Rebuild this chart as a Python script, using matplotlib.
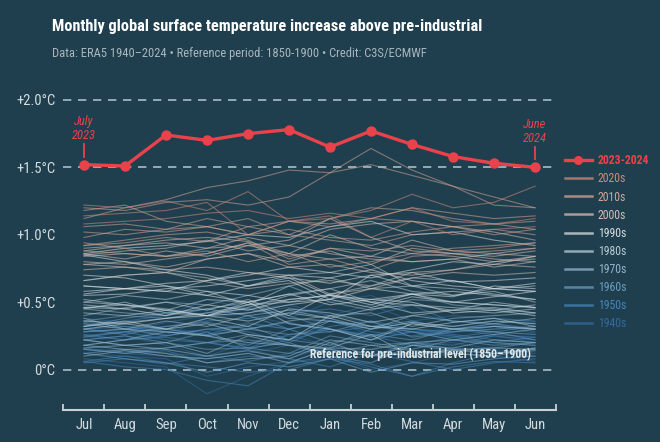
import matplotlib
matplotlib.use("Agg")
import matplotlib.pyplot as plt
from matplotlib import font_manager
from matplotlib.lines import Line2D

# pick a narrow font if one is around
names = set(f.name for f in font_manager.fontManager.ttflist)
font = "Roboto"
for cand in ["Roboto Condensed", "Liberation Sans Narrow", "DejaVu Sans Condensed", "Roboto"]:
    if cand in names:
        font = cand
        break
plt.rcParams['font.family'] = [font, 'DejaVu Sans']

months = ["Jul", "Aug", "Sep", "Oct", "Nov", "Dec", "Jan", "Feb", "Mar", "Apr", "May", "Jun"]

#### 2023-2024 (red) ####
y2023 = [1.52, 1.51, 1.74, 1.70, 1.75, 1.78, 1.65, 1.77, 1.67, 1.58, 1.53, 1.50]

#### earlier years, one row per Jul-Jun year ####
y1940s = [
    [0.30, 0.28, 0.35, 0.40, 0.45, 0.38, 0.50, 0.55, 0.42, 0.36, 0.33, 0.30],
    [0.32, 0.36, 0.40, 0.52, 0.45, 0.48, 0.40, 0.35, 0.28, 0.30, 0.34, 0.28],
    [0.25, 0.22, 0.30, 0.28, 0.35, 0.30, 0.38, 0.25, 0.30, 0.28, 0.32, 0.27],
    [0.28, 0.30, 0.26, 0.38, 0.42, 0.46, 0.40, 0.48, 0.36, 0.40, 0.38, 0.35],
    [0.38, 0.35, 0.42, 0.45, 0.40, 0.34, 0.30, 0.26, 0.28, 0.22, 0.25, 0.20],
    [0.22, 0.25, 0.18, 0.10, 0.15, 0.08, 0.18, 0.12, 0.10, 0.16, 0.14, 0.10],
    [0.12, 0.10, 0.08, -0.05, 0.02, 0.06, 0.14, 0.10, 0.18, 0.20, 0.15, 0.12],
    [0.15, 0.14, 0.12, 0.10, 0.20, 0.25, 0.18, 0.22, 0.28, 0.24, 0.20, 0.18],
    [0.16, 0.12, 0.10, 0.08, 0.12, 0.18, 0.10, 0.00, 0.05, 0.12, 0.10, 0.06],
    [0.08, 0.05, 0.02, -0.18, -0.05, 0.05, 0.08, 0.15, 0.10, 0.12, 0.09, 0.10],
]
y1950s = [
    [0.06, 0.02, 0.00, -0.08, -0.12, 0.05, 0.10, 0.02, -0.05, 0.05, 0.12, 0.15],
    [0.18, 0.22, 0.25, 0.30, 0.28, 0.20, 0.32, 0.36, 0.30, 0.28, 0.32, 0.30],
    [0.25, 0.28, 0.22, 0.20, 0.15, 0.22, 0.30, 0.25, 0.18, 0.24, 0.28, 0.32],
    [0.30, 0.32, 0.28, 0.26, 0.30, 0.35, 0.28, 0.32, 0.30, 0.26, 0.22, 0.20],
    [0.15, 0.12, 0.14, 0.05, 0.10, 0.08, 0.02, 0.12, 0.06, 0.00, 0.05, 0.08],
    [0.06, 0.10, 0.05, 0.02, -0.02, 0.00, 0.08, 0.04, -0.05, 0.02, 0.06, 0.05],
    [0.05, 0.08, 0.04, 0.10, 0.06, 0.12, 0.15, 0.10, 0.20, 0.18, 0.25, 0.22],
    [0.28, 0.30, 0.32, 0.36, 0.38, 0.42, 0.45, 0.40, 0.48, 0.35, 0.38, 0.36],
    [0.35, 0.32, 0.30, 0.26, 0.34, 0.30, 0.36, 0.28, 0.25, 0.30, 0.26, 0.24],
    [0.26, 0.22, 0.24, 0.20, 0.16, 0.26, 0.30, 0.22, 0.28, 0.25, 0.20, 0.24],
]
y1960s = [
    [0.24, 0.28, 0.30, 0.25, 0.18, 0.30, 0.20, 0.26, 0.22, 0.30, 0.28, 0.26],
    [0.28, 0.30, 0.25, 0.30, 0.32, 0.22, 0.36, 0.32, 0.36, 0.30, 0.34, 0.30],
    [0.30, 0.26, 0.32, 0.35, 0.30, 0.26, 0.28, 0.36, 0.24, 0.28, 0.30, 0.32],
    [0.32, 0.38, 0.42, 0.45, 0.40, 0.30, 0.36, 0.32, 0.28, 0.22, 0.20, 0.18],
    [0.12, 0.08, 0.05, -0.02, 0.05, 0.02, 0.08, -0.02, 0.05, 0.04, 0.08, 0.10],
    [0.12, 0.15, 0.16, 0.20, 0.22, 0.18, 0.12, 0.18, 0.20, 0.15, 0.16, 0.20],
    [0.22, 0.18, 0.20, 0.15, 0.16, 0.12, 0.25, 0.20, 0.15, 0.22, 0.18, 0.20],
    [0.22, 0.25, 0.20, 0.28, 0.16, 0.20, 0.10, 0.05, 0.18, 0.14, 0.12, 0.16],
    [0.15, 0.12, 0.16, 0.20, 0.26, 0.22, 0.18, 0.30, 0.35, 0.32, 0.36, 0.34],
    [0.36, 0.40, 0.38, 0.42, 0.45, 0.40, 0.30, 0.24, 0.34, 0.30, 0.28, 0.22],
]
y1970s = [
    [0.22, 0.18, 0.20, 0.12, 0.25, 0.18, 0.16, 0.26, 0.10, 0.15, 0.12, 0.14],
    [0.10, 0.14, 0.10, 0.08, 0.12, 0.05, 0.16, 0.15, 0.20, 0.22, 0.26, 0.30],
    [0.32, 0.35, 0.38, 0.42, 0.48, 0.52, 0.55, 0.50, 0.56, 0.48, 0.45, 0.42],
    [0.38, 0.30, 0.28, 0.25, 0.20, 0.18, 0.15, 0.10, 0.12, 0.14, 0.16, 0.15],
    [0.16, 0.18, 0.15, 0.10, 0.14, 0.08, 0.20, 0.10, 0.18, 0.16, 0.22, 0.20],
    [0.18, 0.15, 0.12, 0.05, 0.08, 0.10, 0.22, 0.18, 0.14, 0.12, 0.10, 0.16],
    [0.18, 0.22, 0.28, 0.25, 0.30, 0.36, 0.40, 0.42, 0.32, 0.38, 0.40, 0.42],
    [0.45, 0.42, 0.40, 0.45, 0.50, 0.38, 0.36, 0.30, 0.35, 0.32, 0.36, 0.34],
    [0.34, 0.30, 0.36, 0.32, 0.40, 0.44, 0.38, 0.30, 0.40, 0.36, 0.34, 0.38],
    [0.40, 0.46, 0.50, 0.48, 0.55, 0.62, 0.50, 0.44, 0.52, 0.50, 0.48, 0.46],
]
y1980s = [
    [0.48, 0.45, 0.50, 0.44, 0.52, 0.40, 0.56, 0.50, 0.48, 0.44, 0.46, 0.42],
    [0.45, 0.50, 0.42, 0.40, 0.46, 0.55, 0.60, 0.50, 0.42, 0.44, 0.50, 0.46],
    [0.42, 0.40, 0.44, 0.40, 0.48, 0.62, 0.68, 0.60, 0.62, 0.55, 0.58, 0.50],
    [0.52, 0.48, 0.44, 0.40, 0.50, 0.34, 0.30, 0.22, 0.34, 0.30, 0.32, 0.30],
    [0.32, 0.36, 0.30, 0.34, 0.26, 0.22, 0.40, 0.32, 0.30, 0.35, 0.38, 0.32],
    [0.30, 0.34, 0.30, 0.38, 0.32, 0.45, 0.42, 0.35, 0.40, 0.44, 0.42, 0.45],
    [0.46, 0.48, 0.44, 0.52, 0.50, 0.56, 0.60, 0.66, 0.58, 0.55, 0.60, 0.62],
    [0.66, 0.70, 0.72, 0.68, 0.62, 0.70, 0.72, 0.78, 0.62, 0.60, 0.56, 0.52],
    [0.50, 0.48, 0.45, 0.40, 0.36, 0.42, 0.38, 0.45, 0.48, 0.46, 0.44, 0.48],
    [0.50, 0.55, 0.52, 0.58, 0.48, 0.50, 0.56, 0.62, 0.68, 0.66, 0.60, 0.58],
]
y1990s = [
    [0.62, 0.60, 0.58, 0.66, 0.72, 0.68, 0.64, 0.70, 0.72, 0.65, 0.66, 0.68],
    [0.70, 0.68, 0.62, 0.55, 0.50, 0.56, 0.48, 0.52, 0.50, 0.42, 0.44, 0.40],
    [0.36, 0.34, 0.38, 0.40, 0.42, 0.48, 0.52, 0.46, 0.54, 0.50, 0.48, 0.46],
    [0.46, 0.45, 0.40, 0.48, 0.44, 0.52, 0.55, 0.48, 0.56, 0.58, 0.55, 0.52],
    [0.55, 0.56, 0.60, 0.62, 0.66, 0.70, 0.68, 0.74, 0.66, 0.62, 0.60, 0.58],
    [0.58, 0.60, 0.62, 0.58, 0.55, 0.50, 0.52, 0.60, 0.56, 0.54, 0.62, 0.60],
    [0.62, 0.60, 0.64, 0.66, 0.70, 0.76, 0.72, 0.68, 0.74, 0.80, 0.78, 0.84],
    [0.86, 0.90, 0.92, 0.95, 1.00, 0.98, 1.06, 1.10, 1.00, 1.02, 0.96, 0.92],
    [0.85, 0.80, 0.74, 0.70, 0.62, 0.68, 0.55, 0.52, 0.56, 0.50, 0.54, 0.58],
    [0.56, 0.60, 0.58, 0.55, 0.62, 0.66, 0.52, 0.70, 0.62, 0.66, 0.60, 0.64],
]
y2000s = [
    [0.66, 0.70, 0.72, 0.65, 0.60, 0.64, 0.66, 0.62, 0.72, 0.74, 0.78, 0.76],
    [0.78, 0.80, 0.76, 0.82, 0.86, 0.80, 0.90, 0.84, 0.96, 0.88, 0.86, 0.90],
    [0.86, 0.82, 0.88, 0.84, 0.92, 0.86, 1.00, 0.90, 0.86, 0.84, 0.80, 0.84],
    [0.85, 0.88, 0.90, 0.96, 0.88, 0.92, 0.86, 0.82, 0.80, 0.82, 0.76, 0.80],
    [0.80, 0.78, 0.82, 0.86, 0.94, 0.84, 0.88, 0.78, 0.90, 0.86, 0.84, 0.88],
    [0.90, 0.92, 0.96, 0.98, 0.95, 0.86, 0.82, 0.84, 0.80, 0.82, 0.86, 0.84],
    [0.84, 0.86, 0.84, 0.90, 0.92, 0.96, 1.12, 0.98, 0.88, 0.86, 0.82, 0.80],
    [0.78, 0.76, 0.74, 0.76, 0.72, 0.70, 0.56, 0.60, 0.68, 0.72, 0.70, 0.72],
    [0.74, 0.76, 0.72, 0.82, 0.86, 0.76, 0.78, 0.72, 0.70, 0.74, 0.80, 0.82],
    [0.88, 0.92, 0.94, 0.90, 0.98, 0.92, 1.04, 1.08, 1.10, 1.06, 1.02, 0.96],
]
y2010s = [
    [0.94, 0.90, 0.84, 0.86, 0.94, 0.78, 0.82, 0.74, 0.84, 0.86, 0.88, 0.90],
    [0.88, 0.86, 0.84, 0.88, 0.80, 0.86, 0.76, 0.80, 0.86, 0.90, 0.92, 0.94],
    [0.92, 0.96, 1.00, 1.02, 0.96, 0.82, 0.90, 0.88, 0.92, 0.88, 0.90, 0.94],
    [0.92, 0.94, 0.98, 0.95, 1.06, 1.00, 0.96, 0.92, 1.00, 1.02, 1.04, 1.00],
    [0.98, 1.04, 1.02, 1.06, 1.00, 1.10, 1.06, 1.12, 1.10, 1.06, 1.08, 1.10],
    [1.12, 1.20, 1.26, 1.35, 1.40, 1.48, 1.46, 1.64, 1.48, 1.36, 1.28, 1.20],
    [1.18, 1.22, 1.10, 1.06, 1.12, 1.00, 1.12, 1.20, 1.18, 1.12, 1.08, 1.04],
    [1.06, 1.08, 1.04, 1.06, 1.00, 1.04, 0.98, 0.96, 1.02, 1.06, 1.00, 1.04],
    [1.02, 1.00, 1.04, 1.12, 1.06, 1.10, 1.08, 1.12, 1.20, 1.16, 1.12, 1.14],
    [1.20, 1.18, 1.24, 1.26, 1.22, 1.28, 1.46, 1.52, 1.44, 1.36, 1.22, 1.20],
]
y2020s = [
    [1.22, 1.20, 1.25, 1.18, 1.32, 1.10, 1.14, 0.98, 1.10, 1.00, 1.04, 1.06],
    [1.08, 1.10, 1.12, 1.16, 1.18, 1.12, 1.16, 1.12, 1.20, 1.10, 1.08, 1.12],
    [1.14, 1.16, 1.18, 1.24, 1.00, 1.10, 1.12, 1.18, 1.30, 1.20, 1.24, 1.36],
]

decades = ["1940s", "1950s", "1960s", "1970s", "1980s", "1990s", "2000s", "2010s", "2020s"]
decade_data = [y1940s, y1950s, y1960s, y1970s, y1980s, y1990s, y2000s, y2010s, y2020s]
decade_colors = ["#336a9c", "#4484bb", "#6a9dc2", "#93b6c8", "#b9ccd4", "#d9dee0",
                 "#d7beb4", "#d2a696", "#cc8c7c"]

bg = "#203f4e"
red = "#ea424b"
grey_txt = "#d3dbdf"

fig = plt.figure(figsize=(6.6, 4.42), dpi=100, facecolor=bg)
ax = fig.add_axes([0.0962, 0.0724, 0.7455, 0.732])
ax.set_facecolor(bg)

x = list(range(12))
for rows, col in zip(decade_data, decade_colors):
    for r in rows:
        ax.plot(x, r, color=col, lw=0.8, alpha=0.55, zorder=2)

# reference lines
for yv in [0, 1.5, 2.0]:
    ax.axhline(yv, color="#a9bcc6", lw=1.2, dashes=(5, 4), zorder=1)

ax.plot(x, y2023, color=red, lw=2.4, marker="o", ms=6.5, zorder=5)

# annotations for first / last point
for xi, txt in [(0, "July\n2023"), (11, "June\n2024")]:
    ax.plot([xi, xi], [y2023[xi] + 0.06, y2023[xi] + 0.15], color=red, lw=1.3, zorder=5)
    ax.text(xi, y2023[xi] + 0.165, txt, color=red, fontsize=9, style="italic",
            ha="center", va="bottom", linespacing=1.1)

ax.text(10.9, 0.06, "Reference for pre-industrial level (1850\u20131900)", color="#e2e8ea",
        fontsize=8.5, fontweight="bold", ha="right", va="bottom", zorder=6)

ax.set_xlim(-0.5, 11.5)
ax.set_ylim(-0.3, 2.1)
ax.set_xticks(x)
ax.set_xticklabels(months)
ax.set_xticks([i - 0.5 for i in range(13)], minor=True)
ax.tick_params(axis="x", which="major", length=0, colors=grey_txt, labelsize=10.5, pad=6)
ax.tick_params(axis="x", which="minor", direction="in", length=4, width=1.3, color="#c8d0d4")
ax.set_yticks([0, 0.5, 1.0, 1.5, 2.0])
ax.set_yticklabels(["0\u00b0C", "+0.5\u00b0C", "+1.0\u00b0C", "+1.5\u00b0C", "+2.0\u00b0C"])
ax.tick_params(axis="y", length=0, colors=grey_txt, labelsize=10.5, pad=6)
for s in ["top", "right", "left"]:
    ax.spines[s].set_visible(False)
ax.spines["bottom"].set_color("#c8d0d4")
ax.spines["bottom"].set_linewidth(1.5)

# legend
handles = [Line2D([], [], color=red, lw=2.4, marker="o", ms=5.5)]
labels = ["2023-2024"]
for d, col in zip(decades[::-1], decade_colors[::-1]):
    handles.append(Line2D([], [], color=col, lw=1.8, alpha=0.75))
    labels.append(d)
leg = ax.legend(handles, labels, loc="upper left", bbox_to_anchor=(1.019, 0.79), frameon=False,
                fontsize=8.5, handlelength=2.3, labelspacing=0.43, handletextpad=0.5,
                borderpad=0, borderaxespad=0)
for t, col in zip(leg.get_texts(), [red] + decade_colors[::-1]):
    t.set_color(col)
leg.get_texts()[0].set_fontweight("bold")

fig.text(0.079, 0.941, "Monthly global surface temperature increase above pre-industrial",
         color="white", fontsize=11.7, fontweight="bold", ha="left", va="center")
fig.text(0.079, 0.878, "Data: ERA5 1940\u20132024 \u2022 Reference period: 1850-1900 \u2022 Credit: C3S/ECMWF",
         color="#a9b6bd", fontsize=9.0, ha="left", va="center")

fig.savefig("out.png", dpi=100, facecolor=bg)
